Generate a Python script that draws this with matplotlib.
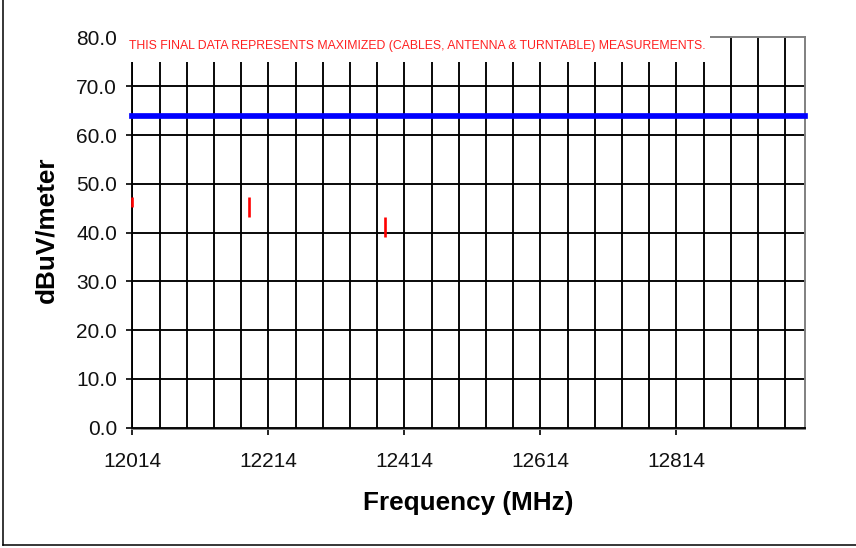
import numpy as np
import matplotlib
matplotlib.use("Agg")
import matplotlib.pyplot as plt
from matplotlib.patches import Rectangle
from matplotlib.lines import Line2D
from matplotlib.ticker import FixedLocator, FormatStrFormatter

plt.rcParams['font.family'] = ['Liberation Sans', 'DejaVu Sans']

# measured emissions (high / low of each red mark)
freqs = [12014, 12186, 12386]
level_hi = [47.3, 47.3, 43.1]
level_lo = [45.2, 43.2, 39.1]
limit = 64.0
x_start, x_end = 12014, 13003
y_ticks = [0, 10, 20, 30, 40, 50, 60, 70, 80]
x_labels = ['12014', '12214', '12414', '12614', '12814']
note = "THIS FINAL DATA REPRESENTS MAXIMIZED (CABLES, ANTENNA & TURNTABLE) MEASUREMENTS."

W, H = 856, 548
fig = plt.figure(figsize=(W / 100, H / 100), dpi=100)
ax = fig.add_axes([132.3 / W, 1 - 427.7 / H, (805 - 132.3) / W, (427.7 - 37.5) / H])

ax.set_xlim(x_start, x_end)
ax.set_ylim(0, 80)

# grid
ax.xaxis.set_major_locator(FixedLocator([float(v) for v in x_labels]))
ax.set_xticklabels(x_labels)
ax.set_yticks(y_ticks)
ax.yaxis.set_major_formatter(FormatStrFormatter('%.1f'))
for v in np.arange(x_start, x_end, 40):
    ax.axvline(v, color='black', lw=1.35, zorder=1)
for v in y_ticks[1:-1]:
    ax.axhline(v, color='black', lw=1.35, zorder=1)

ax.tick_params(axis='x', which='major', length=4.5, width=1.2, color='black',
               labelsize=15, pad=12, labelcolor='#111111')
ax.tick_params(axis='y', length=4, width=1.2, color='black', labelsize=15, pad=7,
               labelcolor='#111111')

for s in ['top', 'right']:
    ax.spines[s].set_color('#808080')
    ax.spines[s].set_linewidth(1.4)
ax.spines['left'].set_color('black')
ax.spines['left'].set_linewidth(1.35)
ax.spines['bottom'].set_color('#808080')
ax.spines['bottom'].set_linewidth(1.4)
ax.spines['bottom'].set_position(('outward', 1.2))
ax.axhline(0, color='black', lw=1.35, zorder=2.6, clip_on=False)

# limit line
ax.plot([x_start, x_end], [limit, limit], color='#0000ff', lw=4.1,
        solid_capstyle='projecting', clip_on=False, zorder=4)

# measurements
ax.vlines(freqs, level_lo, level_hi, colors='#ff0000', lw=1.9, zorder=4, clip_on=False)

# note box covering the top of the grid
box = Rectangle((126 / W, 1 - 61.7 / H), (710 - 126) / W, (61.7 - 30) / H,
                transform=fig.transFigure, facecolor='white', edgecolor='none',
                zorder=5, clip_on=False)
ax.add_artist(box)
ax.text(129 / W, 1 - 45.5 / H, note, transform=fig.transFigure, color='#ff2020',
        fontsize=8.8, va='center', ha='left', zorder=6)

ax.set_xlabel('Frequency (MHz)', fontsize=18.8, fontweight='bold')
ax.set_ylabel('dBuV/meter', fontsize=18.8, fontweight='bold')
ax.xaxis.set_label_coords((468 - 132.3) / (805 - 132.3), -(503 - 427.7) / (427.7 - 37.5))
ax.yaxis.set_label_coords(-(132.3 - 46) / (805 - 132.3), (427.7 - 230) / (427.7 - 37.5))
ax.xaxis.label.set_va('center')
ax.yaxis.label.set_va('center')

# outer frame (left and bottom edges visible)
fig.add_artist(Line2D([2.7 / W, 2.7 / W], [1 - 545 / H, 1], transform=fig.transFigure,
                      color='black', lw=1.1))
fig.add_artist(Line2D([2.7 / W, 1], [1 - 545 / H, 1 - 545 / H], transform=fig.transFigure,
                      color='black', lw=1.1))

fig.savefig('out.png', dpi=100)
